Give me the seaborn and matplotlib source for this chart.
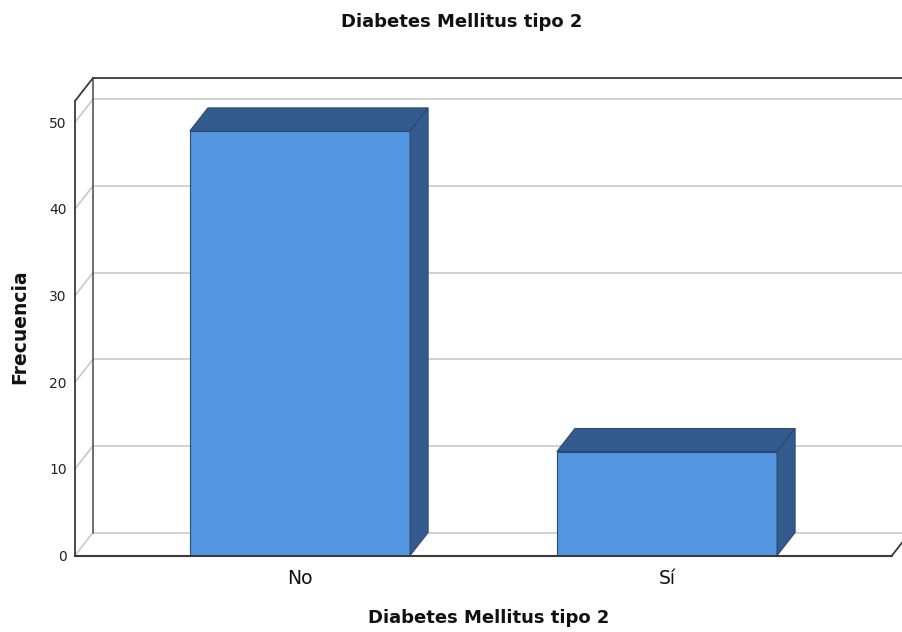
import matplotlib
matplotlib.use("Agg")
import matplotlib.pyplot as plt
from matplotlib.patches import Polygon
import seaborn as sns
import pandas as pd

# Frequencies of type 2 diabetes mellitus
categories = ["No", "Sí"]
counts = [49, 12]
y_ticks = [0, 10, 20, 30, 40, 50]

sns.set_theme(style="white")
plt.rcParams["font.family"] = ["DejaVu Sans"]

W, H, DPI = 902, 632, 100
fig = plt.figure(figsize=(W / DPI, H / DPI), dpi=DPI)

# Axes box in pixels: front floor at y=555.5, back top at y=78
x_px0, x_px1 = 75, 902
y_px0, y_px1 = 555.5, 78
ax = fig.add_axes([x_px0 / W, (H - y_px0) / H, (x_px1 - x_px0) / W, (y_px0 - y_px1) / H])

unit_x = 367.0          # pixels per category step
unit_y = 8.665          # pixels per count
x_left = (x_px0 - 300) / unit_x
x_right = (x_px1 - 300) / unit_x
y_top = (y_px0 - y_px1) / unit_y
ax.set_xlim(x_left, x_right)
ax.set_ylim(0, y_top)

# depth of the pseudo-3D box
dx = 18 / unit_x
dy = 23 / unit_y
front_top = y_top - dy
floor_right = (892 - 300) / unit_x

grid_c = "#c9c9c9"
frame_c = "#3a3a3a"

# back wall gridlines and left wall diagonals
for v in y_ticks:
    ax.plot([x_left + dx, x_right], [v + dy, v + dy], color=grid_c, lw=1.2, zorder=1, clip_on=False)
    ax.plot([x_left, x_left + dx], [v, v + dy], color=grid_c, lw=1.2, zorder=1, clip_on=False)

# frame of the box
ax.plot([x_left, x_left], [0, front_top], color=frame_c, lw=1.3, zorder=2, clip_on=False)
ax.plot([x_left, x_left + dx], [front_top, y_top], color=frame_c, lw=1.3, zorder=2, clip_on=False)
ax.plot([x_left + dx, x_left + dx], [dy, y_top], color="#555555", lw=1.2, zorder=2, clip_on=False)
ax.plot([x_left + dx, x_right], [y_top, y_top], color=frame_c, lw=1.3, zorder=2, clip_on=False)
ax.plot([floor_right, floor_right + dx], [0, dy], color=frame_c, lw=1.3, zorder=2, clip_on=False)

df = pd.DataFrame({"cat": categories, "n": counts})
front_c = "#5596e3"
dark_c = "#345b8e"
edge_c = "#2b4a72"
sns.barplot(data=df, x="cat", y="n", width=0.6, color=front_c, saturation=1,
            edgecolor=edge_c, linewidth=0.8, ax=ax, zorder=3)

# top and side faces of each bar
for p in ax.patches:
    x0, y0 = p.get_x(), p.get_y()
    w, h = p.get_width(), p.get_height()
    top = Polygon([(x0, h), (x0 + dx, h + dy), (x0 + w + dx, h + dy), (x0 + w, h)],
                  closed=True, facecolor=dark_c, edgecolor=edge_c, lw=0.8, zorder=4)
    side = Polygon([(x0 + w, 0), (x0 + w, h), (x0 + w + dx, h + dy), (x0 + w + dx, dy)],
                   closed=True, facecolor=dark_c, edgecolor=edge_c, lw=0.8, zorder=4)
    ax.add_patch(top)
    ax.add_patch(side)

# floor front line drawn over the bars
ax.plot([x_left, floor_right], [0, 0], color=frame_c, lw=1.5, zorder=5, clip_on=False)

for s in ax.spines.values():
    s.set_visible(False)
ax.set_xlim(x_left, x_right)
ax.set_ylim(0, y_top)
ax.set_yticks(y_ticks)
ax.set_yticklabels([str(v) for v in y_ticks], fontsize=10, color="#222222")
ax.tick_params(axis="y", length=0, pad=6)
ax.tick_params(axis="x", length=0, pad=10, labelsize=13.5, labelcolor="#111111")
ax.set_xlabel("Diabetes Mellitus tipo 2", fontsize=13, fontweight="bold", labelpad=15, color="#111111")
ax.set_ylabel("Frecuencia", fontsize=13.5, fontweight="bold", color="#111111")
ax.yaxis.set_label_coords(-(75 - 29) / (x_px1 - x_px0), (y_px0 - 327) / (y_px0 - y_px1))

fig.text(462 / W, 1 - 22 / H, "Diabetes Mellitus tipo 2", ha="center", va="center",
         fontsize=13, fontweight="bold", color="#111111")

fig.savefig("out.png", dpi=DPI, facecolor="white")
